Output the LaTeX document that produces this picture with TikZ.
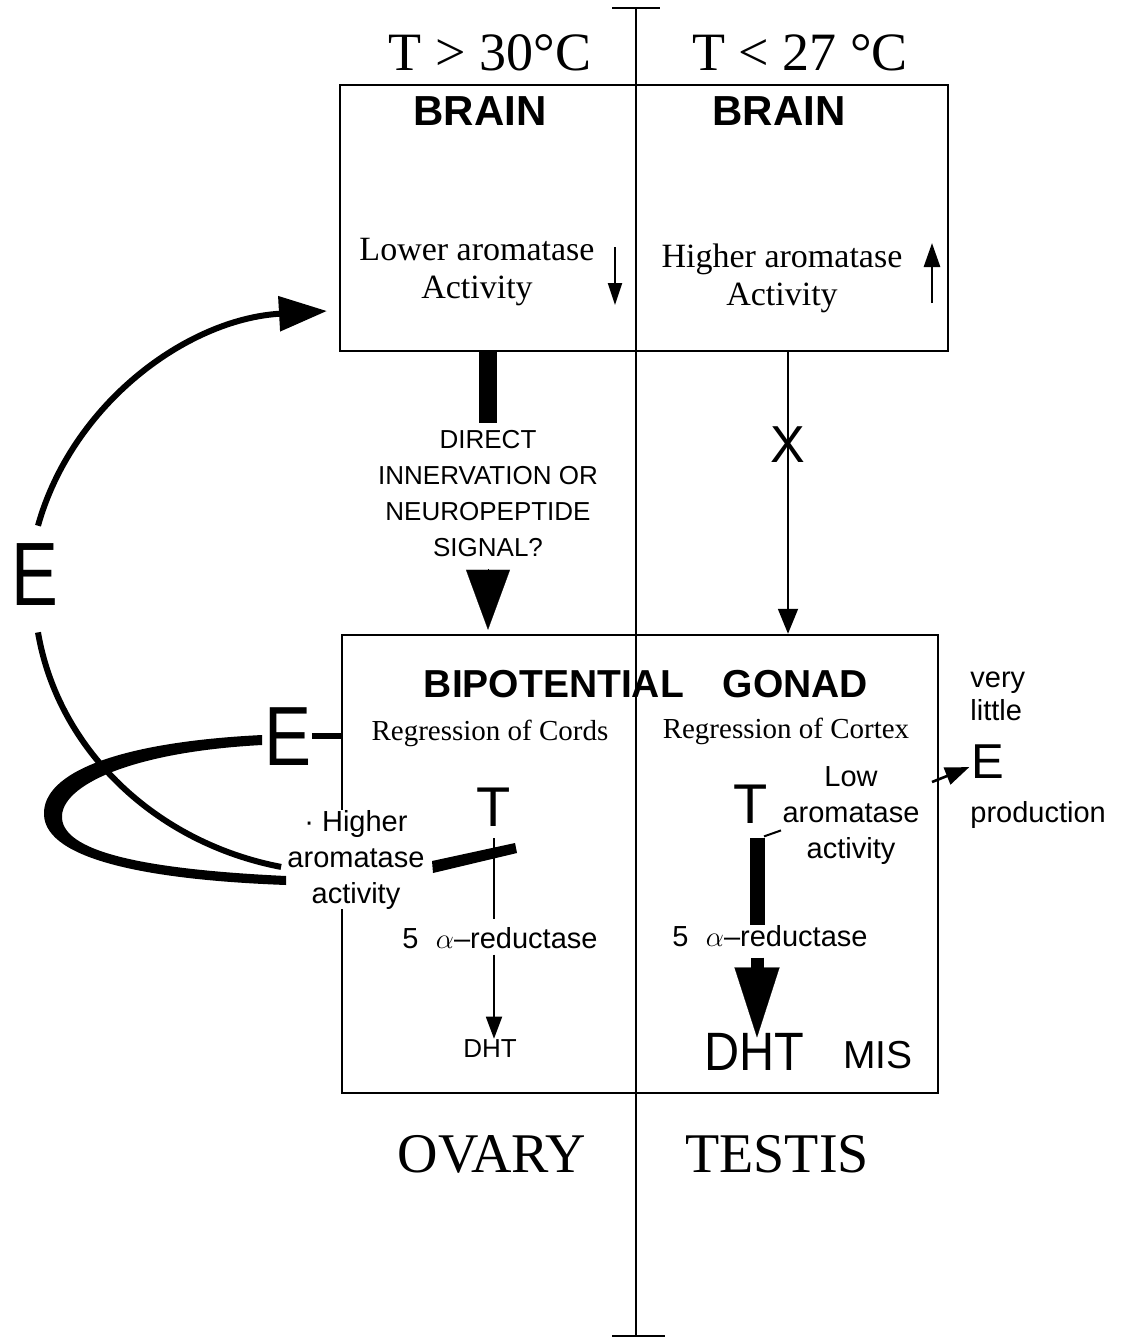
\documentclass[tikz,border=0pt]{standalone}
\usepackage{fontspec}
\setmainfont{Liberation Serif}
\setsansfont{Liberation Sans}
\usepackage{graphicx}
\usetikzlibrary{arrows.meta,positioning,calc}

\newcommand{\fs}[2]{\fontsize{#1}{#2}\selectfont}
\newcommand{\narrowE}[1]{\scalebox{#1}[1]{E}}

\tikzset{
  txt/.style={inner sep=0pt,align=center},
  temp/.style={txt,font=\fs{27pt}{30pt}},
  head/.style={txt,font=\sffamily\bfseries\fs{21pt}{24pt}},
  note/.style={txt,font=\fs{17pt}{19pt}},
  regr/.style={txt,font=\fs{14.5pt}{17pt}},
  caps/.style={txt,font=\sffamily\fs{13pt}{18pt}},
  small/.style={txt,font=\sffamily\fs{14.5pt}{18pt}},
  big/.style={txt,font=\sffamily\fs{#1}{#1}},
  organ/.style={txt,font=\fs{28pt}{30pt}},
  panel/.style={draw,line width=1.25pt,inner sep=0pt},
  axis/.style={line width=1pt},
  loop/.style={line width=3pt},
  thinarr/.style={line width=0.9pt,-{Triangle[length=11pt,width=8pt]}},
}

\begin{document}
\begin{tikzpicture}[x=0.5pt,y=-0.5pt]
\useasboundingbox (0,0) rectangle (1121,1339);

% panels and temperature axis
\node[panel,minimum width=304pt,minimum height=133pt] (brain) at (644,218) {};
\node[panel,minimum width=298pt,minimum height=229pt] (gonad) at (640,864) {};
\coordinate (axTop) at (636,8);
\coordinate (axBot) at (636,1337);
\draw[axis] (axTop) -- (axBot);
\draw[axis] ($(axTop)+(-24,0)$) -- ($(axTop)+(24,0)$);
\draw[axis] ($(axBot)+(-24,-1)$) -- ($(axBot)+(29,-1)$);

\node[temp,anchor=base] (tHot) at (490,70) {T > 30°C};
\node[temp,anchor=base] (tCold) at (800,70) {T < 27 °C};

% brain
\node[head,anchor=base] (brainL) at (480,125) {BRAIN};
\node[head,anchor=base] (brainR) at (779,125) {BRAIN};
\node[note,anchor=north] (aroLow) at (477,238) {Lower aromatase\\Activity};
\node[note,anchor=north] (aroHigh) at (782,244) {Higher aromatase\\Activity};
\coordinate (dnTop) at (615,247);
\coordinate (dnBot) at (615,305);
\draw[line width=1pt,-{Triangle[length=11pt,width=7pt]}] (dnTop) -- (dnBot);
\coordinate (upBot) at (932,303);
\coordinate (upTop) at (932,243);
\draw[line width=1.4pt,-{Triangle[length=12pt,width=8pt]}] (upBot) -- (upTop);

% brain to gonad
\node[caps,anchor=north] (signal) at (488,430) {DIRECT\\INNERVATION OR\\NEUROPEPTIDE\\SIGNAL?};
\draw[line width=9pt] (brain.south -| signal.north) -- ($(signal.north)+(0,-7)$);
\draw[line width=0.1pt,-{Triangle[length=30pt,width=22pt]}] ($(signal.south |- gonad.north)+(0,-65)$) -- ($(signal.south |- gonad.north)+(0,-4)$);
\node[big=26pt,anchor=base] (cross) at (788,462) {X};
\draw[line width=0.9pt,-{Triangle[length=12.5pt,width=10pt]}] (brain.south -| cross) -- (gonad.north -| cross);

% gonad
\node[head,font=\sffamily\bfseries\fs{19.5pt}{22pt},anchor=base] (bipot) at (646,697) {BIPOTENTIAL\hspace{19.5pt}GONAD};
\node[regr,anchor=base] (cords) at (490,740) {Regression of Cords};
\node[regr,anchor=base] (cortex) at (786,738) {Regression of Cortex};

% ovary side
\node[small,anchor=north,fill=white] (aroOv) at (356,810) {· Higher\\aromatase\\activity};
\node[big=28pt,anchor=base] (tOv) at (494,826) {T};
\node[small,anchor=base] (redOv) at (500,948) {5\hspace{0.6em}$\alpha$–reductase};
\node[big=13pt,anchor=base] (dhtOv) at (490,1057) {DHT};
\draw[line width=0.9pt,shorten <=6pt,shorten >=4pt] (tOv.south) -- (tOv.south |- redOv.north);
\draw[thinarr,shorten <=3pt] (redOv.south -| tOv) -- (dhtOv.north -| tOv);
\fill (432,861) -- (515,843) -- (517,853) -- (433,873) -- cycle;

\node[big=42pt,anchor=base] (eOv) at (288,765) {\narrowE{0.84}};
\draw[line width=3pt] (eOv.east) -- (eOv.east -| gonad.west);
\fill (262,735) .. controls (120,742) and (42,772) .. (44,815)
  .. controls (46,860) and (150,880) .. (286,885) -- (286,876)
  .. controls (160,870) and (64,855) .. (62,818)
  .. controls (60,786) and (130,752) .. (262,745) -- cycle;

% estrogen loop back to the brain
\node[big=45pt,anchor=base] (eLoop) at (35,605) {\narrowE{0.78}};
\coordinate (brainIn) at (327,311);
\draw[loop,-{Triangle[length=24pt,width=17pt]}] ($(eLoop.north)+(3,-17)$) .. controls (72,404) and (187,319) .. (brainIn);
\draw[loop] ($(aroOv.west)+(-6,7)$) .. controls (156,843) and (58,750) .. ($(eLoop.south)+(3,27)$);

% testis side
\node[big=28pt,anchor=base] (tTe) at (751,823) {T};
\node[small,anchor=north] (aroTe) at (851,766) {Low\\aromatase\\activity};
\node[small,anchor=base] (redTe) at (770,946) {5\hspace{0.6em}$\alpha$–reductase};
\node[big=27pt,anchor=base] (dhtTe) at (754,1070) {\scalebox{0.9}[1]{DHT}};
\node[big=19.5pt,anchor=base] (mis) at (878,1068) {MIS};
\coordinate (barTop) at ($(tTe.south)+(6,15)$);
\draw[line width=7.5pt] (barTop) -- (barTop |- redTe.north);
\draw[line width=1pt] ($(barTop)+(7,-2)$) -- ($(barTop)+(24,-8)$);
\draw[line width=6.5pt,-{Triangle[length=35pt,width=22.5pt,line width=0.1pt]}] ($(redTe.south -| barTop)+(0,11)$) -- ($(dhtTe.north -| barTop)+(0,5)$);

% little estrogen from the testis
\node[big=24.5pt,anchor=base] (eTe) at (988,778) {E};
\node[small,anchor=base west] (very) at (970,687) {very};
\node[small,anchor=base west] (little) at (970,720) {little};
\node[small,anchor=base west] (product) at (970,822) {production};
\coordinate (eOut) at (932,782);
\draw[line width=1.3pt,-{Triangle[length=12pt,width=9pt]}] (eOut) -- ($(eTe.west)+(-2,6)$);

% outcome
\node[organ,anchor=base] (ovary) at (492,1172) {OVARY};
\node[organ,anchor=base] (testis) at (777,1172) {TESTIS};
\end{tikzpicture}
\end{document}
